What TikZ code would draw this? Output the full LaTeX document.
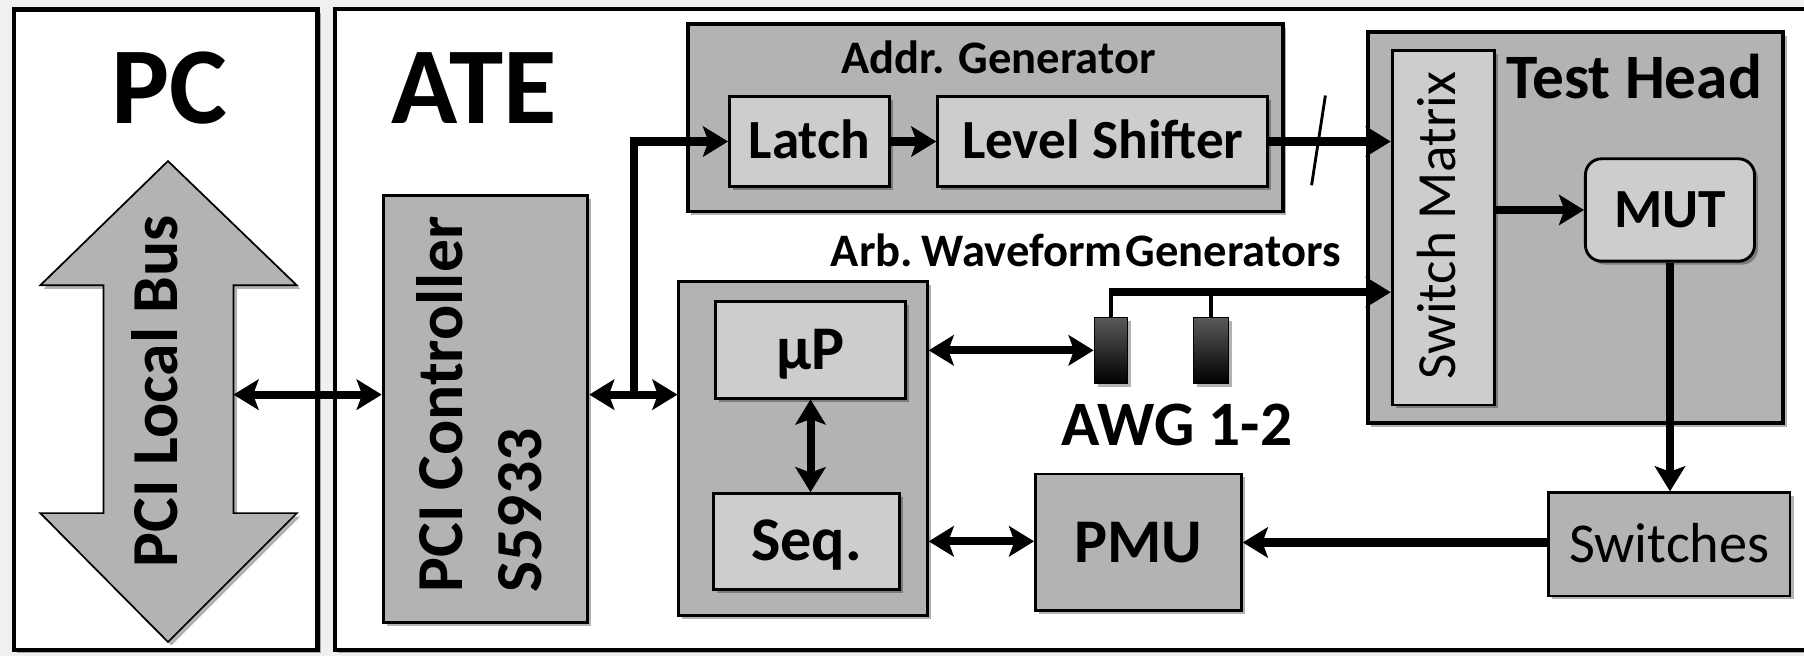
\documentclass[tikz,border=0pt]{standalone}
\usepackage{fontspec}
\setmainfont{Carlito}
\usetikzlibrary{arrows.meta,shadows,calc}
\definecolor{bgc}{HTML}{F0F0F0}
\definecolor{boxg}{HTML}{B3B3B3}
\definecolor{boxl}{HTML}{CDCDCD}
\tikzset{
  shad/.style={drop shadow={shadow xshift=3pt,shadow yshift=-3pt,fill=black,opacity=0.3}},
  sz/.style 2 args={minimum width=#1,minimum height=#2},
  gbox/.style={draw,fill=boxg,line width=2.5pt,inner sep=0pt,shad},
  lbox/.style={draw,fill=boxl,line width=2.5pt,inner sep=0pt,shad},
  awgbox/.style={draw=black,line width=1pt,top color=black!65,bottom color=black,inner sep=0pt,shad},
  fbig/.style={font=\fontsize{95}{100}\selectfont\bfseries,text height=60pt,text depth=0pt,inner sep=0pt},
  fxl/.style={font=\fontsize{57}{60}\selectfont\bfseries,text height=36pt,text depth=0pt,inner sep=0pt},
  fl/.style={font=\fontsize{55}{58}\selectfont\bfseries,text height=35pt,text depth=0pt,inner sep=0pt},
  fm/.style={font=\fontsize{54}{56}\selectfont\bfseries,text height=34pt,text depth=0pt},
  fmb/.style={font=\fontsize{48}{50}\selectfont\bfseries,text height=30pt,text depth=0pt},
  fmr/.style={font=\fontsize{49}{51}\selectfont,text height=31pt,text depth=0pt},
  fs/.style={font=\fontsize{40.5}{43}\selectfont\bfseries,text height=25.5pt,text depth=0pt,inner sep=0pt},
  tip/.tip={Stealth[length=22pt,width=27pt,inset=5pt,line width=1pt]},
  conn/.style={line width=7pt},
  arr/.style={conn,-tip},
  darr/.style={conn,tip-tip},
}
\begin{document}
\begin{tikzpicture}[x=1pt,y=-1pt]
\useasboundingbox (0,0) rectangle (1568,570);
\fill[bgc] (0,0) rectangle (1568,570);

% frames
\node[draw,fill=white,line width=4pt,sz={264pt}{557pt},shad] (pcbox) at (144,286.5) {};
\node[draw,fill=white,line width=3.5pt,sz={1284pt}{557pt},shad] (atebox) at (933,286.5) {};
\node[fbig] (pclab) at (147,77) {PC};
\node[fbig] (atelab) at (412,77) {ATE};

% PCI local bus double arrow
\filldraw[fill=boxg,draw=black,line width=1.5pt,shad]
  (146,140) -- (258,248) -- (203,248) -- (203,446) -- (258,446) -- (146,558)
  -- (35,446) -- (90,446) -- (90,248) -- (35,248) -- cycle;
\node[fxl,rotate=90] (buslab) at (136.5,340) {PCI Local Bus};
\coordinate (busR) at (203,343);

% PCI controller
\node[gbox,sz={178pt}{371pt}] (pci) at (422,355.5) {};
\node[font=\fontsize{57}{60}\selectfont\bfseries,inner sep=0pt,rotate=90,anchor=base west] (pcit1) at (402,515) {PCI Controller};
\node[font=\fontsize{57}{60}\selectfont\bfseries,inner sep=0pt,rotate=90,anchor=base west] (pcit2) at (471,515) {S5933};
\coordinate (j) at (551,343);

% address generator
\node[gbox,line width=3pt,sz={517pt}{163pt}] (addr) at (856.5,102.5) {};
\node[fs] (addrlab) at (868,51) {Addr. Generator};
\node[lbox,sz={139pt}{78pt},fmb] (latch) at (703.5,123) {Latch};
\node[lbox,sz={287pt}{78pt},fmb] (ls) at (958.5,123) {Level Shifter};

% processor / sequencer
\node[gbox,sz={216pt}{290pt}] (outer) at (698,390) {};
\node[lbox,sz={165pt}{84pt},fm] (up) at (704.5,304) {µP};
\node[lbox,sz={162pt}{83pt},fm] (seq) at (701,470.5) {Seq.};
\node[gbox,sz={179pt}{119pt},fm] (pmu) at (989.5,471.5) {PMU};

% AWGs
\node[fs,anchor=west] (arblab) at (722,219) {Arb. \hspace{-0.12em}Waveform \hspace{-0.16em}Generators};
\node[awgbox,sz={29pt}{57pt}] (awg1) at (965.5,304.5) {};
\node[awgbox,sz={31pt}{57pt}] (awg2) at (1052.5,304.5) {};
\node[fl] (awglab) at (1023,370) {AWG 1-2};
\coordinate (busL) at (963.5,254);

% test head
\node[gbox,line width=3.5pt,sz={361pt}{340pt}] (th) at (1369.5,198) {};
\node[fl] (thlab) at (1420.5,68) {Test Head};
\node[lbox,sz={89pt}{308pt}] (sm) at (1254.5,198) {};
\node[font=\fontsize{48}{50}\selectfont,text height=30pt,text depth=0pt,inner sep=0pt,rotate=90] (smlab) at (1250,196) {Switch Matrix};
\node[lbox,rounded corners=14pt,sz={147pt}{89pt},fmb] (mut) at (1451.5,182.5) {MUT};
\node[gbox,line width=2pt,sz={210pt}{90pt},fmr] (sw) at (1451,473) {Switches};

% connectors
\draw[darr] (busR) -- (pci.west |- busR);
\draw[darr] (pci.east |- j) -- (outer.west |- j);
\draw[arr] (j) |- (latch.west);
\draw[arr] (latch) -- (ls);
\draw[arr] (ls.east) -- (ls.east -| sm.west);
\coordinate (sl1) at (1152,83);
\coordinate (sl2) at (1140,161);
\draw[line width=2.5pt] (sl1) -- (sl2);
\draw[darr] (up.south) -- (up.south |- seq.north);
\draw[darr] (awg1.west -| outer.east) -- (awg1.west);
\draw[darr] (outer.east |- seq.east) -- (pmu.west |- seq.east);
\draw[line width=4pt] (awg1.north) -- (awg1.north |- busL);
\draw[line width=4pt] (awg2.north) -- (awg2.north |- busL);
\draw[arr] (busL) -- (busL -| sm.west);
\draw[arr] (sm.east |- mut.west) -- (mut.west);
\draw[arr] (mut.south) -- (mut.south |- sw.north);
\draw[arr] (sw.west |- pmu.east) -- (pmu.east);
\end{tikzpicture}
\end{document}
